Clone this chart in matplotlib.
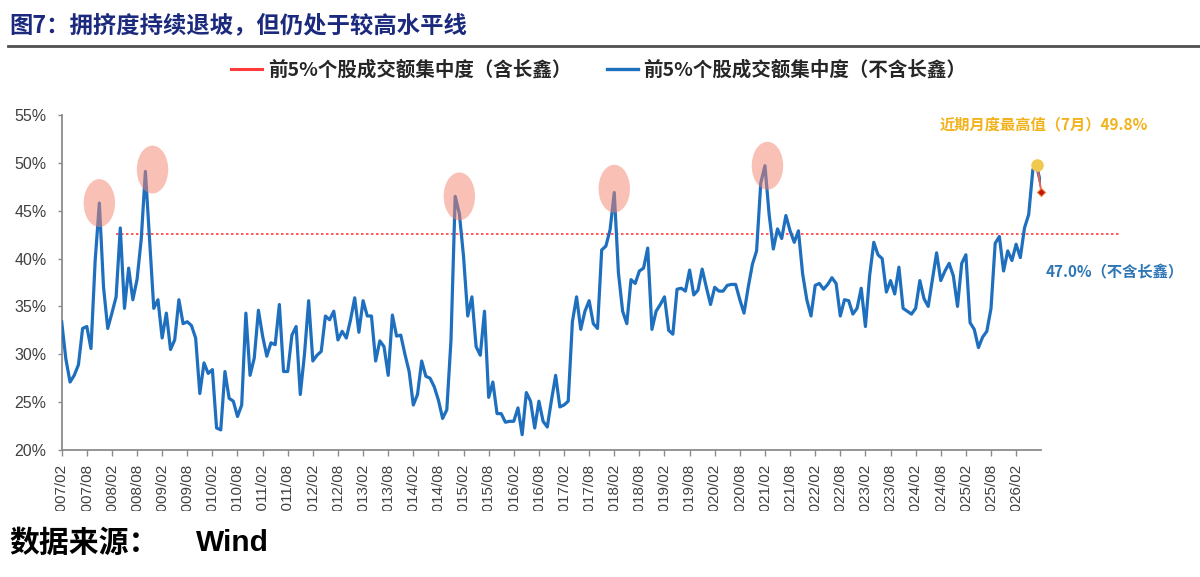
import numpy as np
import matplotlib
matplotlib.use("Agg")
import matplotlib.pyplot as plt
from matplotlib.lines import Line2D
from matplotlib.patches import Ellipse
from matplotlib.transforms import Bbox, TransformedBbox

CJK = ['Noto Sans CJK SC', 'DejaVu Sans']
plt.rcParams['font.family'] = ['Liberation Sans', 'Noto Sans CJK SC', 'DejaVu Sans']

# monthly concentration of top 5% stocks (ex CXMT), 2007/02 .. 2026/08
y2007 = [33.4, 29.5, 27.1, 27.8, 28.9, 32.7, 32.9, 30.6, 39.8, 45.8, 37.0]
y2008 = [32.7, 34.3, 36.0, 43.2, 34.8, 39.0, 35.7, 37.8, 42.0, 49.1, 42.0, 34.8]
y2009 = [35.7, 31.7, 34.3, 30.5, 31.5, 35.7, 33.2, 33.4, 33.0, 31.7, 25.9, 29.1]
y2010 = [28.0, 28.4, 22.3, 22.1, 28.2, 25.4, 25.1, 23.5, 24.7, 34.3, 27.8, 29.6]
y2011 = [34.6, 31.9, 29.8, 31.2, 31.0, 35.2, 28.2, 28.2, 32.0, 32.9, 25.8, 30.0]
y2012 = [35.6, 29.3, 29.9, 30.3, 34.0, 33.6, 34.5, 31.5, 32.4, 31.7, 33.6, 35.9]
y2013 = [32.3, 35.6, 34.0, 34.0, 29.3, 31.4, 30.8, 27.8, 34.1, 31.9, 32.0, 30.0]
y2014 = [28.2, 24.7, 25.8, 29.3, 27.7, 27.5, 26.6, 25.2, 23.3, 24.2, 31.5, 46.5]
y2015 = [44.7, 40.2, 34.0, 36.0, 30.8, 29.9, 34.5, 25.5, 27.1, 23.8, 23.8, 22.9]
y2016 = [23.0, 23.0, 24.4, 21.6, 26.0, 25.1, 22.3, 25.1, 23.0, 22.4, 25.2, 27.8]
y2017 = [24.5, 24.7, 25.1, 33.4, 36.0, 32.6, 34.5, 35.6, 33.2, 32.7, 40.9, 41.3]
y2018 = [43.0, 46.9, 38.5, 34.5, 33.2, 37.8, 37.4, 38.7, 39.0, 41.1, 32.6, 34.5]
y2019 = [35.2, 36.0, 32.5, 32.1, 36.8, 36.9, 36.6, 38.8, 36.2, 36.7, 38.9, 37.0]
y2020 = [35.2, 37.0, 36.6, 36.6, 37.2, 37.3, 37.3, 35.7, 34.3, 37.0, 39.4, 40.8]
y2021 = [47.9, 49.7, 44.6, 41.0, 43.1, 42.1, 44.5, 42.9, 41.7, 42.9, 38.4, 35.7]
y2022 = [34.0, 37.2, 37.4, 36.8, 37.3, 38.0, 37.4, 34.0, 35.7, 35.6, 34.2, 34.8]
y2023 = [36.9, 32.9, 38.2, 41.7, 40.4, 40.0, 36.5, 37.7, 36.3, 39.1, 34.8, 34.5]
y2024 = [34.2, 34.8, 37.7, 35.8, 35.0, 37.8, 40.6, 37.7, 38.7, 39.5, 38.2, 35.0]
y2025 = [39.5, 40.4, 33.3, 32.6, 30.7, 31.8, 32.4, 34.8, 41.6, 42.3, 38.7, 40.8]
y2026 = [39.8, 41.5, 40.1, 43.2, 44.6, 49.3, 49.5, 47.6]

ex_cxmt = (y2007 + y2008 + y2009 + y2010 + y2011 + y2012 + y2013 + y2014 +
           y2015 + y2016 + y2017 + y2018 + y2019 + y2020 + y2021 + y2022 +
           y2023 + y2024 + y2025 + y2026)

# incl. CXMT, only last two months (2026/07, 2026/08)
incl_cxmt = [49.8, 47.0]
threshold = 42.6

# highlighted peaks: (month index, value)
peak_idx = [9, 21.7, 95, 132, 168.6]
peak_val = [45.8, 49.3, 46.5, 47.3, 49.7]

tick_labels = ['%d/%s' % (2007 + k // 2, '02' if k % 2 == 0 else '08') for k in range(39)]

legend_names = ['前5%个股成交额集中度（含长鑫）', '前5%个股成交额集中度（不含长鑫）']

blue = '#1f6fbf'
red = '#ff3b3b'

fig = plt.figure(figsize=(12, 5.77), dpi=100)
ax = fig.add_axes([0.0514, 0.2201, 0.8163, 0.5806])

x = np.arange(len(ex_cxmt))
ax.plot(x, ex_cxmt, color=blue, lw=2.3, zorder=3)

xr = np.arange(len(ex_cxmt) - 2, len(ex_cxmt))
ax.plot(xr, incl_cxmt, color='#e8615a', lw=1.4, zorder=4, clip_on=False)
ax.plot(xr[:1], incl_cxmt[:1], 'o', color='#f0c850', ms=8, zorder=5, clip_on=False)
ax.plot(xr[1:], incl_cxmt[1:], 'D', color='#c0140c', mec='#f08030', mew=0.8, ms=4.5,
        zorder=5, clip_on=False)

ax.plot([13, 253], [threshold, threshold], color=red, lw=1.2,
        ls=(0, (1.5, 1.5)), clip_on=False, zorder=2)

for px, pv in zip(peak_idx, peak_val):
    ax.add_patch(Ellipse((px, pv), 7.5, 5.0, facecolor='#f4826e', edgecolor='none',
                         alpha=0.5, zorder=6))

ax.set_xlim(0, 234)
ax.set_ylim(20, 55)
ax.set_yticks(np.arange(20, 56, 5))
ax.set_yticklabels(['%d%%' % v for v in range(20, 56, 5)])
ax.set_xticks(np.arange(0, 229, 6))
ax.set_xticklabels(tick_labels, rotation=90)

for s in ['top', 'right']:
    ax.spines[s].set_visible(False)
for s in ['left', 'bottom']:
    ax.spines[s].set_color('#8c8c8c')
    ax.spines[s].set_linewidth(1.3)
ax.tick_params(axis='y', colors='#8c8c8c', labelcolor='#404040', labelsize=11.5,
               length=3, width=1, pad=8)
ax.tick_params(axis='x', colors='#8c8c8c', labelcolor='#404040', labelsize=11,
               length=4, width=1, pad=6)

# x labels are cut off at the bottom in the original
clip = TransformedBbox(Bbox([[0, 66 / 577], [1, 1]]), fig.transFigure)
for lab in ax.get_xticklabels():
    lab.set_clip_box(clip)
    lab.set_clip_on(True)

# annotations
ax.text(234.5, 54.0, '近期月度最高值（7月）49.8%', color='#f2b21c', fontsize=11,
        fontweight='bold', family=CJK, ha='center', va='center', clip_on=False)
ax.text(251.5, 38.6, '47.0%（不含长鑫）', color='#2e75b6', fontsize=11,
        fontweight='bold', family=CJK, ha='center', va='center', clip_on=False)

# legend
handles = [Line2D([], [], color=red, lw=2.2), Line2D([], [], color=blue, lw=2.4)]
fig.legend(handles, legend_names, loc='center', bbox_to_anchor=(0.499, 0.879),
           ncol=2, frameon=False, handlelength=1.6, handletextpad=0.3,
           columnspacing=1.8, prop={'family': CJK, 'size': 14, 'weight': 'bold'},
           labelcolor='#262626')

# title, rule, source
fig.text(0.008, 0.957, '图7：拥挤度持续退坡，但仍处于较高水平线', color='#1c2a7e',
         fontsize=16.8, fontweight='bold', family=CJK, ha='left', va='center')
fig.add_artist(Line2D([0.007, 1.0], [0.921, 0.921], color='#505050', lw=2.0,
                      transform=fig.transFigure))
fig.text(0.008, 0.059, '数据来源：', color='black', fontsize=21.5, fontweight='bold',
         family=CJK, ha='left', va='center')
fig.text(0.163, 0.059, 'Wind', color='black', fontsize=21.5, fontweight='bold',
         family=['Liberation Sans', 'DejaVu Sans'], ha='left', va='center')

fig.savefig('out.png', dpi=100)
